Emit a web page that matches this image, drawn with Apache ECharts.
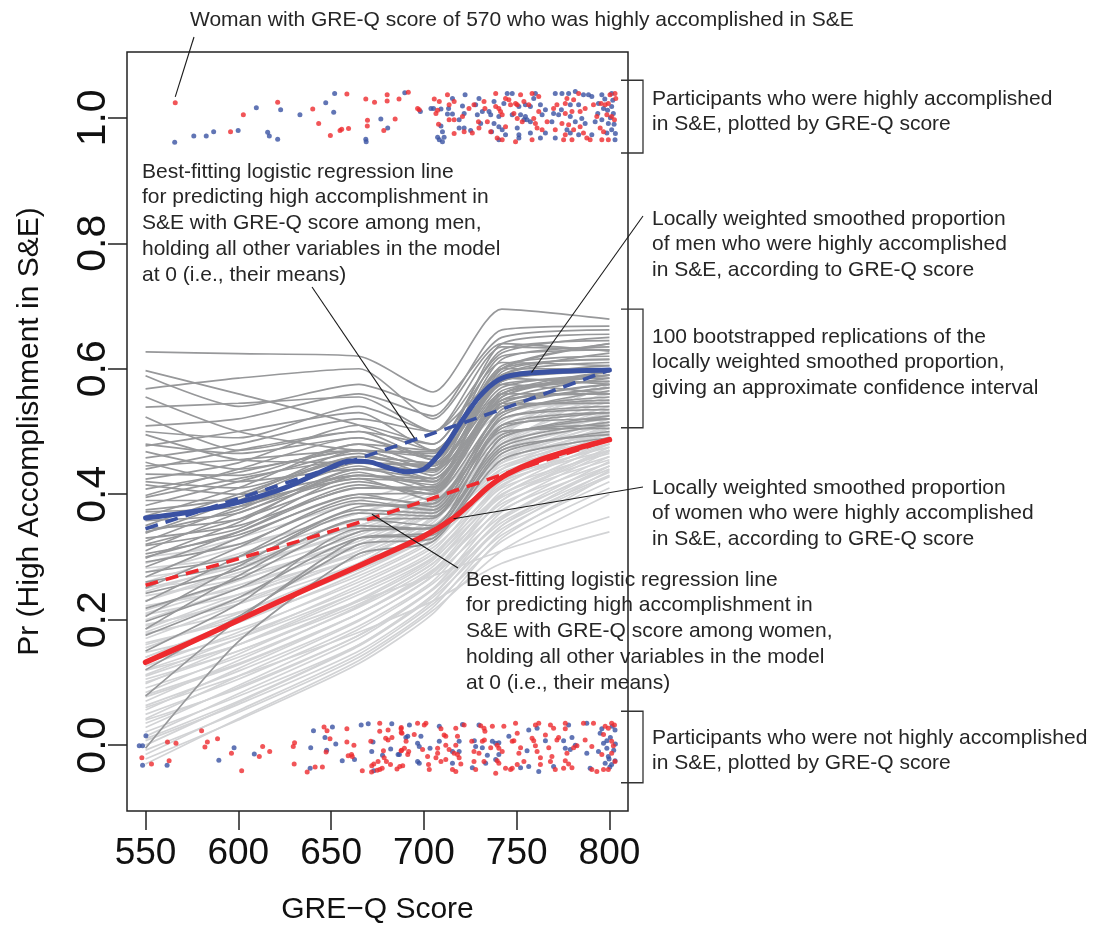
<!DOCTYPE html>
<html><head><meta charset="utf-8">
<script src="https://cdn.jsdelivr.net/npm/echarts@6/dist/echarts.min.js"></script>
<style>html,body{margin:0;padding:0;background:#fff}#c{width:1103px;height:930px}</style>
</head><body><div id="c"></div>
<script>
// ---------- DATA ----------
const xTicks = [550, 600, 650, 700, 750, 800];
const yTicks = [0, 0.2, 0.4, 0.6, 0.8, 1.0];

// bootstrap replication curves evaluated at these GRE-Q scores
const bootX = [550, 600, 665, 705, 742, 800];
const menBoot = [
[0.627,0.624,0.620,0.563,0.695,0.679],[0.597,0.560,0.510,0.470,0.600,0.640],[0.589,0.540,0.575,0.540,0.650,0.662],
[0.568,0.585,0.600,0.520,0.640,0.628],[0.555,0.500,0.470,0.468,0.580,0.600],[0.539,0.545,0.555,0.500,0.625,0.650],
[0.523,0.470,0.500,0.480,0.610,0.605],[0.509,0.520,0.560,0.525,0.662,0.668],[0.495,0.455,0.450,0.445,0.560,0.590],
[0.477,0.500,0.530,0.470,0.600,0.615],[0.468,0.440,0.470,0.465,0.640,0.655],[0.458,0.480,0.520,0.500,0.585,0.575],
[0.451,0.420,0.440,0.438,0.550,0.585],[0.440,0.470,0.500,0.455,0.615,0.635],[0.432,0.430,0.480,0.470,0.575,0.560],
[0.424,0.450,0.510,0.480,0.630,0.645],[0.415,0.400,0.430,0.425,0.540,0.570],[0.408,0.435,0.470,0.440,0.600,0.600],
[0.398,0.440,0.490,0.455,0.590,0.625],[0.390,0.390,0.450,0.448,0.570,0.590],[0.382,0.420,0.465,0.430,0.560,0.560],
[0.372,0.380,0.430,0.415,0.595,0.615],[0.365,0.410,0.480,0.445,0.580,0.605],[0.358,0.370,0.440,0.438,0.545,0.575],
[0.350,0.400,0.455,0.420,0.600,0.640],[0.345,0.360,0.420,0.400,0.530,0.550],[0.338,0.390,0.460,0.440,0.575,0.585],
[0.330,0.350,0.410,0.412,0.555,0.595],[0.325,0.380,0.445,0.410,0.540,0.545],[0.318,0.345,0.430,0.420,0.585,0.600],
[0.310,0.370,0.425,0.390,0.520,0.535],[0.305,0.335,0.400,0.402,0.565,0.580],[0.298,0.355,0.440,0.425,0.550,0.560],
[0.292,0.320,0.390,0.375,0.525,0.565],[0.284,0.340,0.415,0.400,0.545,0.545],[0.276,0.300,0.380,0.385,0.505,0.530],
[0.268,0.330,0.400,0.380,0.535,0.570],[0.260,0.290,0.370,0.365,0.510,0.520],[0.250,0.315,0.395,0.385,0.530,0.555],
[0.242,0.280,0.360,0.362,0.495,0.510],[0.229,0.300,0.385,0.375,0.520,0.540],[0.218,0.265,0.350,0.345,0.490,0.525],
[0.205,0.285,0.375,0.370,0.500,0.505],[0.197,0.250,0.340,0.348,0.480,0.515],[0.185,0.270,0.360,0.350,0.510,0.530],
[0.175,0.235,0.330,0.335,0.470,0.495],[0.150,0.225,0.345,0.345,0.490,0.520],[0.120,0.205,0.320,0.330,0.465,0.500],
[0.078,0.200,0.330,0.340,0.475,0.510],[-0.005,0.165,0.305,0.325,0.455,0.490],[0.445,0.455,0.470,0.440,0.590,0.610],
[0.420,0.410,0.460,0.450,0.605,0.620],[0.395,0.425,0.455,0.425,0.560,0.580],[0.375,0.395,0.470,0.460,0.620,0.630],
[0.360,0.385,0.425,0.420,0.555,0.590],[0.340,0.375,0.450,0.435,0.590,0.600],[0.320,0.360,0.435,0.405,0.545,0.575],
[0.300,0.340,0.410,0.408,0.560,0.595],[0.480,0.465,0.490,0.460,0.580,0.595],[0.500,0.490,0.540,0.500,0.635,0.630]
];
const womenBoot = [
[0.300,0.320,0.370,0.415,0.510,0.560],[0.290,0.330,0.390,0.430,0.530,0.545],[0.282,0.300,0.350,0.395,0.500,0.580],
[0.275,0.315,0.370,0.405,0.480,0.530],[0.268,0.290,0.340,0.390,0.515,0.570],[0.260,0.305,0.360,0.400,0.490,0.520],
[0.252,0.270,0.325,0.380,0.500,0.555],[0.245,0.290,0.350,0.390,0.470,0.515],[0.238,0.265,0.320,0.370,0.485,0.548],
[0.230,0.280,0.345,0.385,0.460,0.505],[0.222,0.250,0.305,0.360,0.480,0.540],[0.215,0.262,0.330,0.375,0.455,0.500],
[0.208,0.240,0.300,0.355,0.475,0.535],[0.200,0.250,0.320,0.370,0.450,0.495],[0.192,0.225,0.290,0.345,0.465,0.528],
[0.185,0.240,0.310,0.360,0.445,0.490],[0.178,0.212,0.280,0.335,0.455,0.520],[0.170,0.225,0.300,0.350,0.440,0.485],
[0.163,0.200,0.270,0.330,0.450,0.515],[0.155,0.210,0.290,0.345,0.435,0.480],[0.148,0.185,0.260,0.320,0.440,0.510],
[0.140,0.195,0.275,0.335,0.425,0.475],[0.133,0.175,0.250,0.310,0.430,0.505],[0.126,0.180,0.265,0.325,0.420,0.470],
[0.119,0.160,0.240,0.300,0.420,0.498],[0.112,0.170,0.255,0.315,0.410,0.465],[0.105,0.150,0.230,0.295,0.412,0.492],
[0.098,0.160,0.245,0.305,0.400,0.460],[0.091,0.140,0.220,0.285,0.405,0.486],[0.084,0.145,0.232,0.298,0.395,0.455],
[0.077,0.128,0.210,0.278,0.398,0.480],[0.070,0.135,0.222,0.290,0.385,0.450],[0.063,0.118,0.200,0.270,0.390,0.475],
[0.056,0.122,0.210,0.280,0.375,0.445],[0.049,0.105,0.190,0.262,0.380,0.468],[0.042,0.110,0.198,0.270,0.365,0.440],
[0.035,0.092,0.175,0.250,0.372,0.460],[0.028,0.095,0.185,0.258,0.355,0.435],[0.021,0.078,0.160,0.240,0.362,0.452],
[0.014,0.082,0.170,0.248,0.345,0.428],[0.007,0.065,0.150,0.230,0.350,0.445],[0.000,0.068,0.158,0.236,0.335,0.420],
[-0.008,0.052,0.140,0.220,0.340,0.438],[-0.015,0.055,0.145,0.225,0.325,0.410],[-0.022,0.040,0.130,0.210,0.330,0.430],
[-0.030,0.042,0.135,0.215,0.310,0.400],[0.110,0.160,0.230,0.270,0.310,0.364],[0.060,0.110,0.180,0.230,0.290,0.340],
[0.180,0.235,0.310,0.380,0.495,0.575],[0.140,0.200,0.290,0.365,0.480,0.565],[0.250,0.285,0.340,0.380,0.455,0.500],
[0.210,0.255,0.315,0.360,0.470,0.525],[0.160,0.205,0.280,0.340,0.460,0.510],[0.120,0.170,0.245,0.305,0.415,0.480],
[0.080,0.130,0.210,0.275,0.390,0.470],[0.040,0.090,0.175,0.250,0.360,0.445],[0.190,0.230,0.300,0.350,0.440,0.500],
[0.100,0.150,0.225,0.290,0.400,0.470],[0.010,0.070,0.160,0.240,0.350,0.430],[0.230,0.275,0.335,0.385,0.500,0.550]
];

// main curves
const menLoessX = [550,575,600,625,650,660,670,680,690,700,710,720,730,740,750,775,800];
const menLoessY = [0.362,0.372,0.387,0.410,0.443,0.453,0.452,0.443,0.436,0.440,0.470,0.515,0.556,0.582,0.591,0.596,0.598];
const menLogitX = [550,600,650,700,750,800];
const menLogitY = [0.345,0.393,0.442,0.492,0.544,0.598];
const womenLoessX = [550,575,600,625,650,675,700,715,725,735,745,760,780,800];
const womenLoessY = [0.132,0.165,0.199,0.233,0.266,0.299,0.333,0.360,0.385,0.412,0.432,0.452,0.471,0.487];
const womenLogitX = [550,600,650,700,750,800];
const womenLogitY = [0.255,0.297,0.341,0.389,0.439,0.487];

// jittered participants [GRE-Q, outcome + jitter]
const topBlue = [
[565.7,0.961],[576,0.971],[582.7,0.971],[586.7,0.978],[599.9,0.980],[609.7,1.016],[622.8,1.013],[615.8,0.977],[616.7,0.971],[621.2,0.966],
[633.2,1.005],[647.1,1.024],[651.4,1.009],[651.9,1.039],[668.7,0.966],[668.9,0.962],[689.7,1.040],[676.8,0.998],[680.5,0.984],
[698.1,1.010],[703.8,1.015],[705.2,1.015],[709.2,1.014],[709.2,0.987],[710.0,0.978],[707.4,0.969],[708.3,0.965],[710.9,0.969],[710.0,0.962],
[715.4,1.031],[713.3,1.015],[715.4,1.006],[712.7,1.006],[719.0,0.984],[722.2,1.037],[720.8,1.019],[721.7,1.007],[719.0,0.997],[721.7,0.984],
[725.2,0.980],[729.7,1.031],[730.6,0.991],[728.8,1.005],[731.5,1.010],[727.9,1.021],[735.1,1.010],[736.0,1.005],[737.8,0.991],[736.5,0.978],
[737.8,1.026],[743.1,1.023],[744.9,1.039],[740.4,1.002],[740.4,0.986],[742.2,0.981],[740.4,0.965],[744.0,0.973],[747.6,1.039],[751.2,1.018],
[747.6,1.005],[752.1,1.005],[750.3,0.984],[751.2,0.973],[751.2,0.968],[753.9,0.997],[754.7,1.021],[757.4,1.018],[759.2,1.031],[754.7,1.002],
[757.4,0.994],[757.4,0.976],[755.6,0.997],[760.1,1.039],[762.8,1.021],[763.7,1.005],[765.5,0.976],[762.8,0.968],[765.5,1.013],[770.8,1.039],
[774.4,1.039],[769.9,1.007],[772.6,1.005],[769.0,0.994],[770.8,0.968],[774.1,1.013],[778.0,1.039],[778.9,1.021],[778.9,1.002],[777.1,0.981],
[778.9,0.976],[781.6,0.994],[781.6,1.042],[786.0,1.037],[783.4,1.021],[785.1,0.999],[783.4,0.973],[786.9,0.991],[788.7,1.037],[790.5,1.034],
[794.1,1.023],[790.5,0.973],[792.3,0.994],[793.7,1.007],[795.9,1.037],[801.2,1.039],[796.8,1.015],[801.2,1.018],[795.9,0.997],[799.4,0.991],
[798.6,0.976],[801.2,0.981],[803.0,0.965],[802.1,1.007],[800.5,1.000],[802.5,0.990],[799.0,1.012],[803.2,0.975],[797.5,1.030],[801.8,1.028]
];
const topRed = [
[566,1.024],[595.8,0.978],[602.7,1.005],[621.2,1.025],[640.1,1.014],[643.3,0.991],[649.6,0.972],[654.8,0.980],[655.7,0.982],[659.4,0.983],
[658.5,1.038],[668.7,1.030],[673.4,1.025],[669.6,0.996],[669.5,0.987],[680.2,1.037],[680.2,1.027],[686.6,1.030],[678.4,0.980],[684.5,0.998],
[691.6,1.041],[696.6,1.015],[697.5,1.013],[705.6,1.030],[708.3,1.026],[707.4,1.012],[707.9,0.990],[706.5,1.007],[712.7,1.037],[716.3,1.026],
[713.6,1.021],[716.3,0.997],[713.6,0.997],[716.3,0.975],[720.8,1.002],[721.7,0.978],[724.3,1.015],[727.0,1.021],[729.4,0.994],[732.4,1.026],
[726.1,0.976],[729.7,0.984],[732.9,1.015],[738.7,1.039],[734.2,0.994],[736.0,0.978],[738.7,1.018],[740.4,1.015],[741.3,1.010],[744.0,1.031],
[745.8,1.029],[742.2,1.005],[744.0,0.986],[739.5,0.968],[742.2,0.965],[746.7,1.021],[749.4,1.023],[750.3,1.021],[752.1,1.037],[748.5,1.007],
[750.3,0.999],[749.4,0.962],[753.0,0.994],[753.9,1.026],[756.5,1.021],[758.3,1.039],[759.2,0.999],[760.1,0.991],[758.3,0.965],[761.9,1.034],
[761.9,1.010],[761.0,0.984],[763.7,0.981],[766.4,0.994],[771.7,1.021],[770.8,0.981],[769.9,1.015],[774.4,0.991],[777.1,1.031],[776.2,1.023],
[780.7,1.029],[776.2,1.007],[779.8,1.010],[778.0,0.989],[776.2,0.973],[775.3,0.965],[779.8,0.965],[780.7,0.981],[783.4,1.039],[784.2,1.010],
[786.9,1.015],[784.2,0.986],[786.0,0.976],[787.8,0.968],[791.4,1.021],[789.6,0.965],[793.2,1.002],[795.0,0.984],[800.3,1.037],[803.0,1.039],
[795.5,1.023],[797.7,1.021],[799.4,1.023],[798.6,1.005],[801.2,1.002],[796.8,0.978],[795.9,0.965],[799.4,0.965],[802.7,0.997],[803.4,1.031]
];
const bottomBlue = [
[550.2,0.015],[546.6,-0.001],[548.4,-0.001],[548.4,-0.032],[561.6,-0.032],[589.5,-0.024],[597.7,-0.004],[608.6,-0.014],[638.7,-0.037],[639.0,-0.004],
[640.5,0.023],[650.7,0.029],[646.7,0.012],[652.5,0.002],[647.6,-0.008],[656.0,-0.025],[662.6,-0.023],[666.2,0.032],[670.0,0.034],[682.7,0.034],
[672.6,0.005],[671.9,-0.010],[677.7,-0.016],[682.1,-0.006],[673.0,-0.041],[686.1,-0.015],[690.3,0.012],
[692.2,0.032],[708.3,0.030],[720.8,0.033],[729.7,0.032],[761.0,0.027],[778.0,0.032],[787.8,0.035],[795.9,0.026],[803.0,0.024],
[698.4,0.014],[691.3,0.014],[686.8,-0.015],[719.0,0.006],[708.3,0.006],[727.2,0.007],[736.9,0.006],[738.7,0.003],[740.4,0.004],[745.8,0.014],
[756.5,0.024],[765.5,0.007],[775.3,0.007],[779.8,0.012],[781.6,0.000],[798.6,0.007],[796.8,0.003],[795.0,0.019],
[696.6,0.003],[697.5,-0.002],[703.3,-0.005],[715.4,-0.010],[719.0,-0.010],[727.9,-0.002],[731.5,-0.004],[734.2,-0.016],[740.4,-0.015],[755.6,-0.009],
[776.2,-0.005],[778.9,-0.007],[787.8,-0.013],[794.1,-0.010],[798.6,-0.005],[799.4,-0.018],[803.0,-0.025],
[696.6,-0.026],[697.5,-0.029],[715.4,-0.029],[726.1,-0.036],[733.3,-0.029],[738.7,-0.023],[752.1,-0.036],[756.5,-0.034],[761.9,-0.042],[769.9,-0.034],
[789.6,-0.037],[797.7,-0.029],[801.2,-0.031],[800.5,0.012],[802.3,-0.008],[799.8,-0.022],[801.5,0.030],[803.2,0.002],[800.2,-0.035]
];
const bottomRed = [
[548.0,-0.020],[553.2,-0.030],[561.8,0.005],[566.4,0.003],[562.7,-0.025],[580.2,0.023],[583.3,0.005],[582.0,-0.003],[588.8,0.010],[596.3,-0.013],
[601.8,-0.041],[611.3,-0.018],[613.1,-0.002],[616.9,-0.010],[629.6,-0.002],[630.3,0.004],[630.1,-0.030],[637.1,-0.043],[641.4,-0.035],[645.3,-0.035],
[646.2,0.029],[647.8,0.023],[649.4,0.010],[647.3,-0.011],[658.5,0.026],[658.5,0.005],[662.3,0.000],[659.2,-0.017],[661.0,-0.015],[661.4,-0.018],
[676.2,0.035],[676.2,0.022],[680.7,0.024],[687.8,0.028],[687.8,0.020],[679.4,0.011],[680.7,0.008],[682.8,0.012],[671.4,0.006],[678.2,-0.009],
[678.6,-0.020],[679.8,-0.026],[671.9,-0.033],[673.0,-0.030],[675.3,-0.026],[671.8,-0.043],[674.8,-0.040],[676.2,-0.039],[677.5,-0.037],[682.0,-0.031],
[685.5,-0.038],[687.0,-0.034],[688.6,-0.033],[688.0,-0.008],[666.8,-0.041],
[687.7,0.026],[688.2,0.019],[696.6,0.035],[700.2,0.032],[701.1,0.035],[709.2,0.026],[717.2,0.027],[721.7,0.032],[730.6,0.031],[732.4,0.027],
[732.9,0.022],[736.9,0.030],[743.1,0.030],[749.4,0.035],[760.1,0.032],[761.9,0.035],[768.2,0.032],[769.9,0.027],[776.2,0.035],[776.2,0.026],
[786.0,0.035],[791.4,0.035],[797.7,0.030],[799.4,0.027],[801.2,0.035],[802.7,0.032],
[694.8,0.017],[690.4,0.006],[689.5,-0.005],[687.7,-0.009],[710.9,0.016],[711.8,0.014],[718.1,0.014],[711.8,0.000],[717.2,0.000],[725.8,0.006],
[731.5,0.006],[732.6,0.008],[739.5,0.000],[747.6,0.006],[748.5,0.007],[750.3,0.019],[758.3,0.011],[759.2,0.007],[765.5,0.016],[771.7,0.008],
[772.6,0.012],[782.5,-0.001],[786.9,0.008],[796.8,0.017],[801.2,0.006],[802.1,-0.001],
[699.3,-0.007],[691.8,-0.010],[691.3,-0.015],[707.4,-0.005],[707.4,-0.013],[713.6,-0.007],[716.3,-0.013],[718.1,-0.015],[727.0,-0.010],[729.7,-0.013],
[736.0,-0.004],[740.4,-0.005],[742.2,-0.010],[739.5,-0.025],[751.2,-0.013],[752.1,-0.004],[760.1,-0.001],[761.0,-0.010],[762.8,-0.020],[767.3,-0.004],
[769.0,-0.018],[777.1,-0.013],[780.7,-0.004],[790.5,-0.002],[795.9,-0.015],[801.2,-0.013],
[702.0,-0.018],[702.5,-0.031],[702.9,-0.039],[706.5,-0.020],[709.2,-0.026],[711.8,-0.023],[715.4,-0.039],[717.2,-0.042],[719.9,-0.030],[719.0,-0.020],
[727.0,-0.026],[727.9,-0.039],[732.4,-0.026],[740.4,-0.029],[738.7,-0.045],[744.0,-0.037],[746.7,-0.039],[747.6,-0.037],[750.3,-0.031],[753.9,-0.026],
[762.8,-0.031],[768.2,-0.026],[770.8,-0.039],[775.3,-0.037],[776.2,-0.025],[778.0,-0.030],[779.8,-0.036],[790.5,-0.039],[793.2,-0.042],[796.8,-0.039],
[799.4,-0.039],[803.0,-0.026]
];

// ---------- CHART ----------
const FONT = '"Liberation Sans", Arial, Helvetica, sans-serif';
const BLUE = '#3a52a3', RED = '#ee2a2e', DARK = '#97989a', LIGHT = '#d2d3d5';
const zip = (xs, ys) => xs.map((x, i) => [x, ys[i]]);
const series = [];
womenBoot.forEach(r => series.push({type:'line', data: zip(bootX, r), symbol:'none', smooth:0.22,
  lineStyle:{color:LIGHT, width:1.7}, silent:true, z:1}));
menBoot.forEach(r => series.push({type:'line', data: zip(bootX, r), symbol:'none', smooth:0.22,
  lineStyle:{color:DARK, width:1.7}, silent:true, z:2}));
series.push({type:'line', data: zip(womenLogitX, womenLogitY), symbol:'none', smooth:0.3,
  lineStyle:{color:RED, width:3.6, type:[13,8]}, z:3});
series.push({type:'line', data: zip(menLogitX, menLogitY), symbol:'none', smooth:0.3,
  lineStyle:{color:BLUE, width:3.6, type:[13,8]}, z:3});
series.push({type:'line', data: zip(womenLoessX, womenLoessY), symbol:'none', smooth:0.3,
  lineStyle:{color:RED, width:5.5, cap:'round'}, z:4});
series.push({type:'line', data: zip(menLoessX, menLoessY), symbol:'none', smooth:0.3,
  lineStyle:{color:BLUE, width:5, cap:'round'}, z:4});
[[topBlue,BLUE],[topRed,RED],[bottomBlue,BLUE],[bottomRed,RED]].forEach(([d,c]) =>
  series.push({type:'scatter', data:d, symbol:'circle', symbolSize:5, itemStyle:{color:c}, z:5, silent:true}));

const titleText = {fontSize:30, color:'#111', fontFamily:FONT};
const option = {
  animation:false,
  backgroundColor:'#fff',
  grid:{left:127, right:475, top:52, bottom:117, show:true, borderColor:'#222', borderWidth:1.5, backgroundColor:'transparent'},
  xAxis:{type:'value', min:540, max:810,
    axisLine:{show:false, onZero:false},
    axisTick:{show:true, length:19, customValues:xTicks, lineStyle:{color:'#222', width:1.5}},
    axisLabel:{customValues:xTicks, margin:24, fontSize:37, color:'#111', fontFamily:FONT},
    splitLine:{show:false},
    name:'GRE\u2212Q Score', nameLocation:'middle', nameGap:84, nameTextStyle:titleText},
  yAxis:{type:'value', min:-0.105, max:1.105,
    axisLine:{show:false, onZero:false},
    axisTick:{show:true, length:19, customValues:yTicks, lineStyle:{color:'#222', width:1.5}},
    axisLabel:{customValues:yTicks, margin:13, rotate:90, formatter:v => v.toFixed(1), fontSize:41, color:'#111', fontFamily:FONT},
    splitLine:{show:false},
    name:'Pr (High Accomplishment in S&E)', nameLocation:'middle', nameGap:82, nameTextStyle:titleText},
  series
};
const chart = echarts.init(document.getElementById('c'));
chart.setOption(option);

// ---------- ANNOTATIONS ----------
const px = (x, y) => chart.convertToPixel({gridIndex:0}, [x, y]);
const LH = 25.7, AF = 21, ACOL = '#262626';
const notes = [
  {t:['Woman with GRE-Q score of 570 who was highly accomplished in S&E'], x:190, cy:20},
  {t:['Participants who were highly accomplished','in S&E, plotted by GRE-Q score'], x:652, cy:99},
  {t:['Best-fitting logistic regression line','for predicting high accomplishment in','S&E with GRE-Q score among men,','holding all other variables in the model','at 0 (i.e., their means)'], x:142, cy:172},
  {t:['Locally weighted smoothed proportion','of men who were highly accomplished','in S&E, according to GRE-Q score'], x:652, cy:219},
  {t:['100 bootstrapped replications of the','locally weighted smoothed proportion,','giving an approximate confidence interval'], x:652, cy:337},
  {t:['Locally weighted smoothed proportion','of women who were highly accomplished','in S&E, according to GRE-Q score'], x:652, cy:488},
  {t:['Best-fitting logistic regression line','for predicting high accomplishment in','S&E with GRE-Q score among women,','holding all other variables in the model','at 0 (i.e., their means)'], x:466, cy:580},
  {t:['Participants who were not highly accomplished','in S&E, plotted by GRE-Q score'], x:652, cy:738}
];
const g = [];
notes.forEach(n => g.push({type:'text', z:10, style:{text:n.t.join('\n'), x:n.x, y:n.cy - LH/2,
  fontSize:AF, fontFamily:FONT, fill:ACOL, lineHeight:LH, verticalAlign:'top', align:'left'}}));
// brackets (data extents of the bands)
[[1.06,0.944],[0.695,0.506],[0.054,-0.060]].forEach(([a,b]) => {
  const ya = px(800, a)[1], yb = px(800, b)[1];
  g.push({type:'polyline', z:10, shape:{points:[[621,ya],[643,ya],[643,yb],[621,yb]]},
    style:{stroke:'#333', lineWidth:1.3, fill:null}});
});
// leader lines
const leaders = [
  {from:[194,37], to:[566,1.024], dy:-6},
  {from:[643,216], to:[758,0.594], dy:0},
  {from:[643,487], to:[716,0.361], dy:0},
  {from:[312,287], to:[695,0.489], dy:0},
  {from:[458,568], to:[672,0.368], dy:0}
];
leaders.forEach(l => {
  const p = px(l.to[0], l.to[1]);
  g.push({type:'line', z:10, shape:{x1:l.from[0], y1:l.from[1], x2:p[0], y2:p[1] + l.dy},
    style:{stroke:'#1a1a1a', lineWidth:1.1}});
});
chart.setOption({graphic:g});
</script>
</body></html>
